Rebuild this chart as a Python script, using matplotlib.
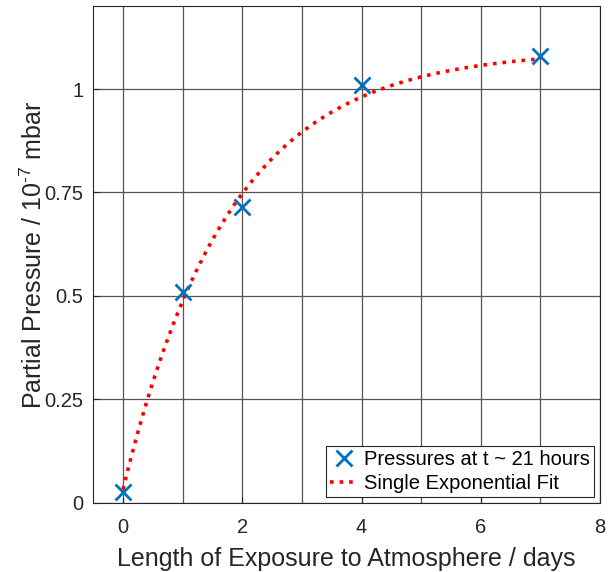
import numpy as np
import matplotlib
matplotlib.use("Agg")
import matplotlib.pyplot as plt
from matplotlib.ticker import MultipleLocator

plt.rcParams['font.family'] = ['Liberation Sans', 'DejaVu Sans']
plt.rcParams['mathtext.fontset'] = 'custom'
plt.rcParams['mathtext.rm'] = 'Liberation Sans'

# measured pressures
days = [0, 1, 2, 4, 7]
pressure = [0.025, 0.51, 0.715, 1.01, 1.08]

# single exponential fit  y = A - B*exp(-k*x)
fit_A = 1.094
fit_B = 1.062
fit_k = 0.56

xticks = [0, 2, 4, 6, 8]
yticks = [0, 0.25, 0.5, 0.75, 1]
ytick_labels = ['0', '0.25', '0.5', '0.75', '1']

fig = plt.figure(figsize=(6.13, 5.72), dpi=100)
ax = fig.add_axes([0.152, 0.121, 0.827, 0.868])

x_fit = np.linspace(min(days), max(days), 200)
y_fit = fit_A - fit_B * np.exp(-fit_k * x_fit)

ax.plot(days, pressure, 'x', color='#0072BD', markersize=11, mew=2,
        label='Pressures at t ~ 21 hours', zorder=4)
ax.plot(x_fit, y_fit, ':', color='red', lw=2.6,
        label='Single Exponential Fit', zorder=3)

ax.set_xlim(-0.5, 8)
ax.set_ylim(0, 1.2)
ax.set_xticks(xticks)
ax.xaxis.set_minor_locator(MultipleLocator(1))
ax.set_yticks(yticks)
ax.set_yticklabels(ytick_labels)

ax.grid(True, which='both', axis='x', color='#555555', lw=0.9)
ax.grid(True, which='major', axis='y', color='#555555', lw=0.9)
ax.tick_params(which='both', direction='in', length=4, colors='#262626',
               labelsize=14.5, top=False, right=False)
ax.tick_params(axis='x', pad=11)
ax.tick_params(axis='y', pad=7)
ax.tick_params(which='minor', length=0)
for s in ax.spines.values():
    s.set_color('#262626')
    s.set_linewidth(0.8)

ax.set_xlabel('Length of Exposure to Atmosphere / days', fontsize=18,
              color='#262626', labelpad=7)
ax.set_ylabel(r'Partial Pressure / 10$^{\mathrm{\text{-}7}}$ mbar',
              fontsize=18, color='#262626', labelpad=-2)

leg = ax.legend(loc='lower right', fontsize=14.5, fancybox=False,
                framealpha=1, edgecolor='#262626', borderpad=0.2,
                handlelength=1.4, handletextpad=0.3, labelspacing=0.25,
                borderaxespad=0.3)
leg.get_frame().set_linewidth(0.8)

fig.savefig('out.png', dpi=100)
